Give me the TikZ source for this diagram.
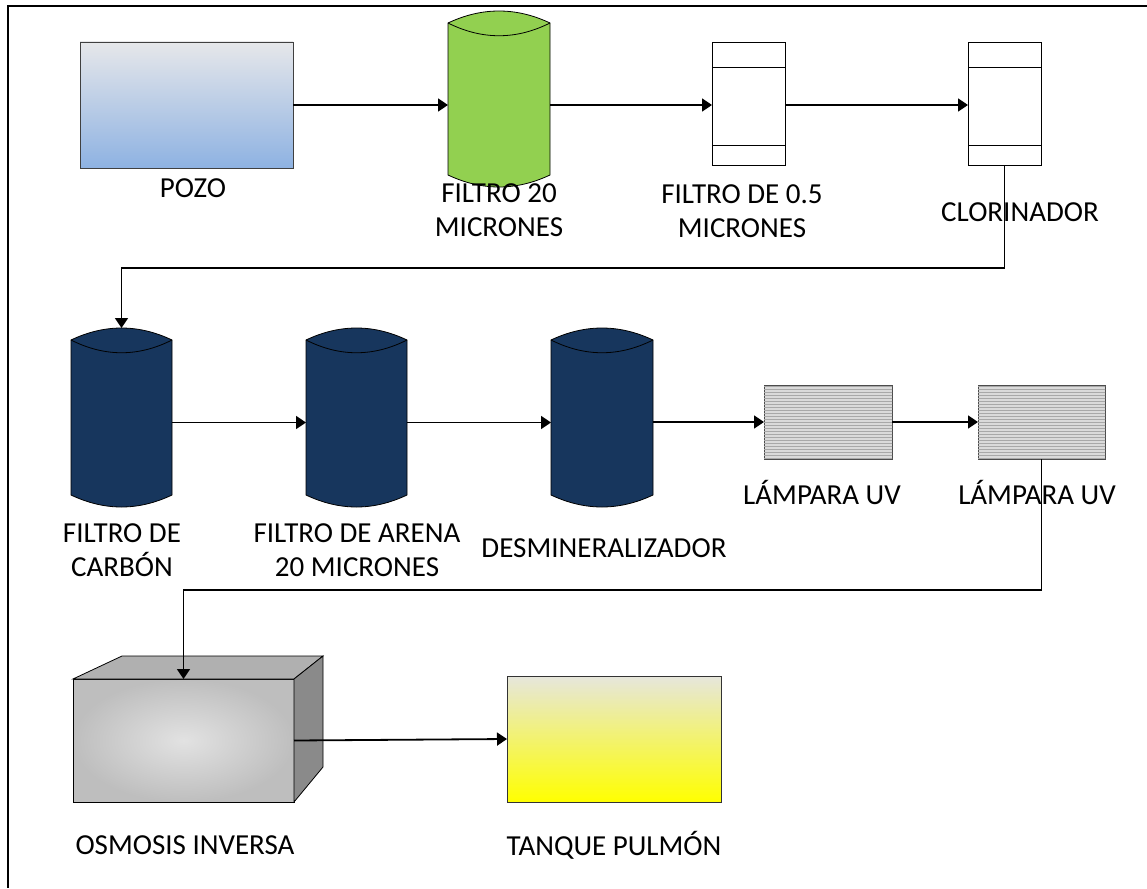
\documentclass[tikz,border=0pt]{standalone}
\usepackage{fontspec}
\setmainfont{Carlito}
\usetikzlibrary{arrows.meta,calc,patterns}
\definecolor{azulpozo}{HTML}{8EB2E2}
\definecolor{grispozo}{HTML}{E6E7EA}
\definecolor{verdefiltro}{HTML}{92D050}
\definecolor{azulmarino}{HTML}{17365D}
\definecolor{grisuv}{HTML}{DADADA}
\definecolor{rayauv}{HTML}{A8A8A8}
\definecolor{osmclaro}{HTML}{E2E2E2}
\definecolor{osmoscuro}{HTML}{BEBEBE}
\definecolor{osmtapa}{HTML}{B0B0B0}
\definecolor{osmlado}{HTML}{8A8A8A}
\definecolor{amarillo}{HTML}{FFFF00}
\definecolor{crema}{HTML}{E6E6DC}
\tikzset{
  etiqueta/.style={font=\fontsize{29}{34}\selectfont, align=center, inner sep=0pt},
  caja/.style={inner sep=0pt, outer sep=0pt},
  borde/.style={draw=black, line width=0.8pt},
  flecha/.style={line width=1.8pt, -{Triangle[length=10pt,width=13pt]}},
  lampara/.style={caja, borde, draw=black!70, fill=grisuv, minimum height=74pt,
    postaction={pattern=horizontal lines, pattern color=rayauv}},
}
\newcommand{\cilindro}[2]{%
  \filldraw[fill=#2, borde]
    ($(#1.north west)+(0,12)$)
      .. controls ($(#1.north west)!0.3333!(#1.north east)+(0,-4)$)
      and ($(#1.north west)!0.6667!(#1.north east)+(0,-4)$) .. ($(#1.north east)+(0,12)$)
    -- ($(#1.south east)+(0,-12)$)
      .. controls ($(#1.south east)!0.3333!(#1.south west)+(0,4)$)
      and ($(#1.south east)!0.6667!(#1.south west)+(0,4)$) .. ($(#1.south west)+(0,-12)$) -- cycle;
  \draw[borde] ($(#1.north west)+(0,12)$)
      .. controls ($(#1.north west)!0.3333!(#1.north east)+(0,29)$)
      and ($(#1.north west)!0.6667!(#1.north east)+(0,29)$) .. ($(#1.north east)+(0,12)$);
}
\newcommand{\cartucho}[1]{%
  \draw[borde] ($(#1.north west)+(0,25)$) -- ($(#1.north east)+(0,25)$);
  \draw[borde] ($(#1.south west)+(0,-20)$) -- ($(#1.south east)+(0,-20)$);
}
\begin{document}
\begin{tikzpicture}[x=1pt,y=-1pt]
  \useasboundingbox (0,0) rectangle (1147,888);
  \draw[line width=2pt] (1147,6) -- (8,6) -- (8,888);

  \node[caja, borde, draw=black!75, minimum width=213pt, minimum height=126pt,
    top color=grispozo, bottom color=azulpozo] (pozo) at (186.5,105) {};
  \node[caja, minimum width=102pt, minimum height=176pt] (filtro20) at (499,99) {};
  \cilindro{filtro20}{verdefiltro}
  \node[caja, borde, fill=white, minimum width=73pt, minimum height=123pt] (filtro05) at (748.5,103.5) {};
  \cartucho{filtro05}
  \node[caja, borde, fill=white, minimum width=73pt, minimum height=123pt] (clorinador) at (1004.5,103.5) {};
  \cartucho{clorinador}

  \node[caja, minimum width=101pt, minimum height=179pt] (carbon) at (121.5,417.5) {};
  \cilindro{carbon}{azulmarino}
  \node[caja, minimum width=101pt, minimum height=179pt] (arena) at (356.5,417.5) {};
  \cilindro{arena}{azulmarino}
  \node[caja, minimum width=102pt, minimum height=179pt] (desmin) at (602,417.5) {};
  \cilindro{desmin}{azulmarino}
  \node[lampara, minimum width=128pt] (uv1) at (828,422) {};
  \node[lampara, minimum width=127pt] (uv2) at (1041.5,422) {};

  \node[caja, borde, minimum width=221pt, minimum height=123pt,
    inner color=osmclaro, outer color=osmoscuro] (osmosis) at (183.5,740.5) {};
  \filldraw[fill=osmtapa, borde] (osmosis.north west) -- ++(49,-23) -- ++(201,0) -- (osmosis.north east) -- cycle;
  \filldraw[fill=osmlado, borde] (osmosis.north east) -- ++(29,-23) -- ++(0,111) -- (osmosis.south east) -- cycle;
  \node[caja, borde, draw=black!80, minimum width=214pt, minimum height=126pt,
    top color=crema, bottom color=amarillo] (tanque) at (614,739) {};

  \node[etiqueta] (tpozo) at (193,188) {POZO};
  \node[etiqueta] (tfiltro20) at (499,210) {FILTRO 20\\MICRONES};
  \node[etiqueta] (tfiltro05) at (742,211) {FILTRO DE 0.5\\MICRONES};
  \node[etiqueta] (tclorinador) at (1020,212) {CLORINADOR};
  \node[etiqueta] (tcarbon) at (122,550) {FILTRO DE\\CARBÓN};
  \node[etiqueta] (tarena) at (357,550) {FILTRO DE ARENA\\20 MICRONES};
  \node[etiqueta] (tdesmin) at (604,548) {DESMINERALIZADOR};
  \node[etiqueta] (tuv1) at (822,492) {LÁMPARA UV};
  \node[etiqueta] (tuv2) at (1037,492) {LÁMPARA UV};
  \node[etiqueta] (tosmosis) at (185,845) {OSMOSIS INVERSA};
  \node[etiqueta] (ttanque) at (614,845) {TANQUE PULMÓN};

  \draw[flecha] (pozo.east) -- (pozo.east -| filtro20.west);
  \draw[flecha] (filtro20.east |- pozo.east) -- (filtro05.west |- pozo.east);
  \draw[flecha] (filtro05.east |- pozo.east) -- (clorinador.west |- pozo.east);
  \draw[flecha] (clorinador.south) -- ++(0,103) -| (carbon.north);
  \draw[flecha] ([yshift=-5pt]carbon.east) -- ([yshift=-5pt]arena.west);
  \draw[flecha] ([yshift=-5pt]arena.east) -- ([yshift=-5pt]desmin.west);
  \draw[flecha] (desmin.east |- uv1.west) -- (uv1.west);
  \draw[flecha] (uv1.east) -- (uv2.west);
  \draw[flecha] (uv2.south) -- ++(0,131) -| (osmosis.north);
  \draw[flecha] (osmosis.east) -- (tanque.west);
\end{tikzpicture}
\end{document}
